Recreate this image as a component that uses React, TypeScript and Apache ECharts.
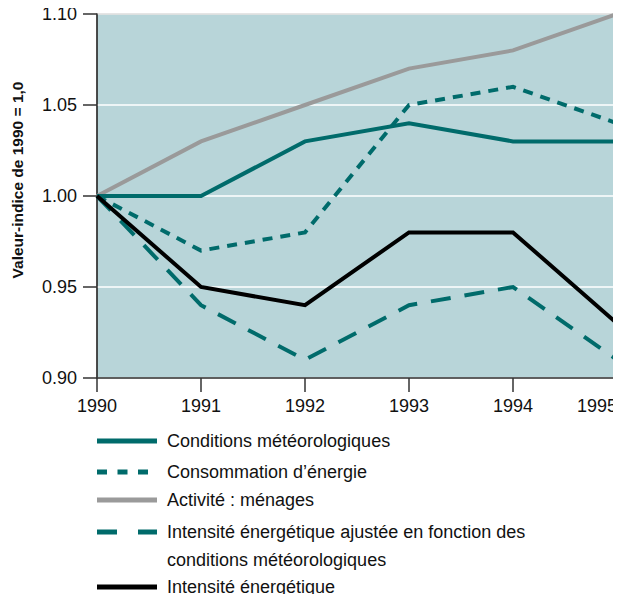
import React, { useEffect, useRef } from "react";
import * as echarts from "echarts";

const years = ["1990", "1991", "1992", "1993", "1994", "1995"];
const conditions = [1.0, 1.0, 1.03, 1.04, 1.03, 1.03];
const consommation = [1.0, 0.97, 0.98, 1.05, 1.06, 1.04];
const activite = [1.0, 1.03, 1.05, 1.07, 1.08, 1.1];
const intensiteAjustee = [1.0, 0.94, 0.91, 0.94, 0.95, 0.91];
const intensite = [1.0, 0.95, 0.94, 0.98, 0.98, 0.93];
const yAxisTitle = "Valeur-indice de 1990 = 1,0";

const TEAL = "#006b6b";
const GRAY = "#9a9a9a";
const BLACK = "#000000";
const FONT = "'Liberation Sans', Arial, sans-serif";

const legendItems = [
  { label: "Conditions météorologiques", color: TEAL, dash: null as number[] | null, y: 441, x2: 157 },
  { label: "Consommation d’énergie", color: TEAL, dash: [10, 10.5], y: 472, x2: 148 },
  { label: "Activité : ménages", color: GRAY, dash: null, y: 500, x2: 157 },
  { label: "Intensité énergétique ajustée en fonction des\nconditions météorologiques", color: TEAL, dash: [20, 21], y: 532, x2: 157 },
  { label: "Intensité énergétique", color: BLACK, dash: null, y: 587, x2: 157 },
];

export default function App() {
  const ref = useRef<HTMLDivElement>(null);
  useEffect(() => {
    if (!ref.current) return;
    const chart = echarts.init(ref.current, undefined, { renderer: "svg" });
    const mk = (name: string, data: number[], color: string, type: any) => ({
      name,
      type: "line",
      data,
      symbol: "none",
      lineStyle: { color, width: 4, type, cap: "butt", join: "miter" },
      z: 3,
    });
    const graphics: any[] = [
      {
        type: "text",
        x: 17.5,
        y: 180,
        rotation: Math.PI / 2,
        style: {
          text: yAxisTitle,
          font: `bold 15.5px ${FONT}`,
          fill: "#111",
          align: "center",
          verticalAlign: "middle",
        },
      },
    ];
    legendItems.forEach((it) => {
      graphics.push({
        type: "line",
        shape: { x1: 97, y1: it.y, x2: it.x2, y2: it.y },
        style: { stroke: it.color, lineWidth: 5, lineDash: it.dash || undefined },
      });
      graphics.push({
        type: "text",
        x: 167,
        y: it.y - 14,
        style: {
          text: it.label,
          font: `18px ${FONT}`,
          fill: "#111",
          lineHeight: 28,
          verticalAlign: "top",
        },
      });
    });
    chart.setOption({
      animation: false,
      textStyle: { fontFamily: FONT },
      grid: {
        left: 97,
        top: 14,
        right: 4,
        bottom: 224,
        show: true,
        backgroundColor: "#b8d5d9",
        borderColor: "#333",
        borderWidth: 1,
        outerBoundsMode: "none",
        containLabel: false,
      },
      xAxis: {
        type: "category",
        data: years,
        boundaryGap: false,
        axisLine: { lineStyle: { color: "#333", width: 1.5 } },
        axisTick: { show: true, length: 14, lineStyle: { color: "#333", width: 1.5 } },
        axisLabel: {
          color: "#111",
          fontSize: 18,
          margin: 19,
          fontFamily: FONT,
          showMaxLabel: true,
          hideOverlap: false,
          interval: 0,
          alignMaxLabel: "right",
        },
        splitLine: { show: false },
      },
      yAxis: {
        type: "value",
        min: 0.9,
        max: 1.1,
        interval: 0.05,
        axisLine: { show: true, lineStyle: { color: "#333", width: 1.5 } },
        axisTick: { show: true, length: 14, lineStyle: { color: "#333", width: 1.5 } },
        axisLabel: {
          color: "#111",
          fontSize: 18,
          margin: 20,
          fontFamily: FONT,
          formatter: (v: number) => v.toFixed(2),
        },
        splitLine: { show: true, lineStyle: { color: "#ffffff", width: 1.5 } },
      },
      series: [
        mk("Activité : ménages", activite, GRAY, "solid"),
        mk("Conditions météorologiques", conditions, TEAL, "solid"),
        mk("Consommation d’énergie", consommation, TEAL, [10, 8]),
        mk("Intensité énergétique ajustée", intensiteAjustee, TEAL, [20, 14]),
        mk("Intensité énergétique", intensite, BLACK, "solid"),
      ],
      graphic: graphics,
    });
    return () => chart.dispose();
  }, []);
  return <div ref={ref} style={{ width: 621, height: 602, margin: -8 }} />;
}
